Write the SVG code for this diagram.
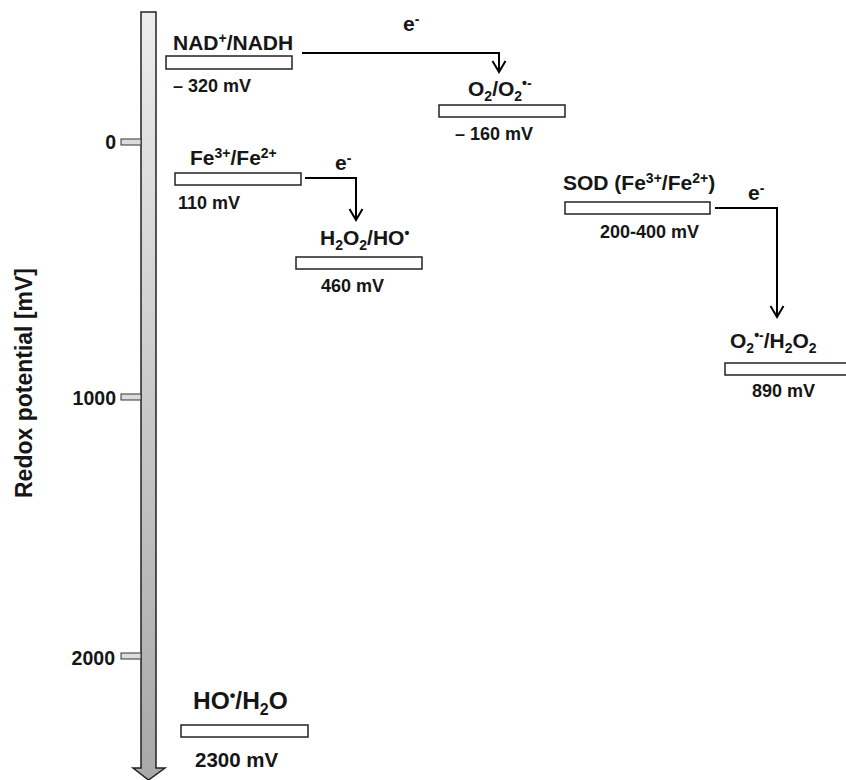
<svg xmlns="http://www.w3.org/2000/svg" width="846" height="780" viewBox="0 0 846 780">
<style>
text{font-family:"Liberation Sans",Arial,sans-serif;font-weight:bold;fill:#161616}
.lbl{font-size:21px}
.val{font-size:18px}
.ax{font-size:19.5px}
.box{fill:#fff;stroke:#222;stroke-width:1.5}
.tick{fill:#dcdcdc;stroke:#333;stroke-width:1}
.con{fill:none;stroke:#000;stroke-width:2}
.sp{font-size:14px}
</style>
<defs>
<linearGradient id="ax" x1="0" y1="0" x2="0" y2="1">
<stop offset="0" stop-color="#ececec"/>
<stop offset="1" stop-color="#a8a8a8"/>
</linearGradient>
<marker id="ah" markerWidth="14" markerHeight="16" refX="12" refY="8" orient="auto" markerUnits="userSpaceOnUse" viewBox="0 0 14 16">
<path d="M1,1.5 L12,8 L1,14.5" fill="none" stroke="#000" stroke-width="2"/>
</marker>
</defs>
<g id="axis">
<path d="M141,12 H156 V768 H165 L148.5,780 L133,768 H141 Z" fill="url(#ax)" stroke="#222" stroke-width="1.5"/>
<rect class="tick" x="121" y="139" width="20" height="6"/>
<rect class="tick" x="121" y="394" width="20" height="6"/>
<rect class="tick" x="121" y="653" width="20" height="6"/>
<text class="ax" x="116" y="149" text-anchor="end">0</text>
<text class="ax" x="116" y="405" text-anchor="end">1000</text>
<text class="ax" x="115" y="665" text-anchor="end">2000</text>
<text transform="translate(32,383) rotate(-90)" text-anchor="middle" font-size="23">Redox potential [mV]</text>
</g>
<g id="nad">
<rect class="box" x="166" y="56" width="126" height="13"/>
<text class="lbl" x="173" y="50">NAD<tspan class="sp" dy="-7">+</tspan><tspan dy="7">/NADH</tspan></text>
<text class="val" x="173" y="92">– 320 mV</text>
</g>
<g id="o2">
<rect class="box" x="439" y="105" width="126" height="12"/>
<text class="lbl" x="468" y="96">O<tspan class="sp" dy="5">2</tspan><tspan dy="-5">/O</tspan><tspan class="sp" dy="5">2</tspan><tspan class="sp" dy="-13">•-</tspan></text>
<text class="val" x="455" y="140">– 160 mV</text>
</g>
<g id="fe">
<rect class="box" x="175" y="173" width="126" height="12"/>
<text class="lbl" x="190" y="165">Fe<tspan class="sp" dy="-7">3+</tspan><tspan dy="7">/Fe</tspan><tspan class="sp" dy="-7">2+</tspan></text>
<text class="val" x="178" y="209">110 mV</text>
</g>
<g id="h2o2">
<rect class="box" x="296" y="257" width="126" height="12"/>
<text class="lbl" x="320" y="245">H<tspan class="sp" dy="5">2</tspan><tspan dy="-5">O</tspan><tspan class="sp" dy="5">2</tspan><tspan dy="-5">/HO</tspan><tspan class="sp" dy="-7">•</tspan></text>
<text class="val" x="321" y="292">460 mV</text>
</g>
<g id="sod">
<rect class="box" x="565" y="202" width="145" height="12"/>
<text class="lbl" x="563" y="190">SOD (Fe<tspan class="sp" dy="-7">3+</tspan><tspan dy="7">/Fe</tspan><tspan class="sp" dy="-7">2+</tspan><tspan dy="7">)</tspan></text>
<text class="val" x="600" y="238">200-400 mV</text>
</g>
<g id="o2h2o2">
<rect class="box" x="725" y="363" width="125" height="12"/>
<text class="lbl" x="730" y="348">O<tspan class="sp" dy="5">2</tspan><tspan class="sp" dy="-13">•-</tspan><tspan dy="8">/H</tspan><tspan class="sp" dy="5">2</tspan><tspan dy="-5">O</tspan><tspan class="sp" dy="5">2</tspan></text>
<text class="val" x="752" y="397">890 mV</text>
</g>
<g id="hoh2o">
<rect class="box" x="181" y="725" width="127" height="12"/>
<text x="193" y="709" font-size="24.5">HO<tspan font-size="16" dy="-8">•</tspan><tspan dy="8">/H</tspan><tspan font-size="16" dy="6">2</tspan><tspan dy="-6">O</tspan></text>
<text x="195" y="767" font-size="20.5">2300 mV</text>
</g>
<g id="connectors">
<path class="con" d="M302,53 H499 V72" marker-end="url(#ah)"/>
<path class="con" d="M305,178 H356 V220" marker-end="url(#ah)"/>
<path class="con" d="M715,208 H777 V317" marker-end="url(#ah)"/>
<text class="lbl" x="403" y="31">e<tspan class="sp" dy="-7">-</tspan></text>
<text class="lbl" x="335" y="170">e<tspan class="sp" dy="-7">-</tspan></text>
<text class="lbl" x="748" y="200">e<tspan class="sp" dy="-7">-</tspan></text>
</g>
</svg>
